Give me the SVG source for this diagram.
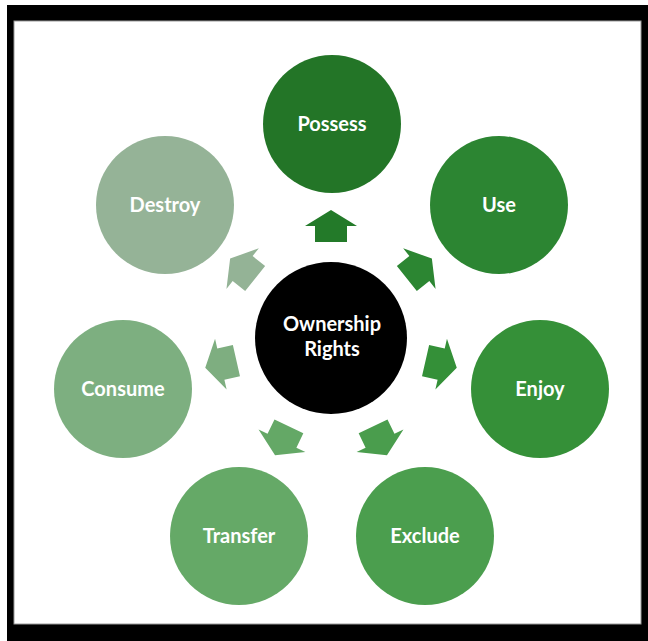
<svg xmlns="http://www.w3.org/2000/svg" xmlns:xlink="http://www.w3.org/1999/xlink" width="648" height="641" viewBox="0 0 648 641">
<style>
.lbl{font-family:Lato,"Open Sans","Liberation Sans",sans-serif;font-weight:bold;font-size:20px;fill:#ffffff;text-anchor:middle}
</style>
<defs>
<path id="arr" d="M331,210 L357,226 L347,226 L347,242 L315,242 L315,226 L305,226 Z"/>
</defs>
<rect x="0" y="0" width="648" height="641" fill="#ffffff"/>
<rect x="7" y="5" width="641" height="636" fill="#000000"/>
<rect x="14" y="21" width="627" height="603" fill="#ffffff" stroke="#9a9a9a" stroke-width="1"/>
<g id="connectors">
<use xlink:href="#arr" fill="#237a29"/>
<use xlink:href="#arr" fill="#2c8632" transform="rotate(51.43 331 339)"/>
<use xlink:href="#arr" fill="#349038" transform="rotate(102.86 331 339)"/>
<use xlink:href="#arr" fill="#4a9d4d" transform="rotate(154.29 331 339)"/>
<use xlink:href="#arr" fill="#64a866" transform="rotate(205.71 331 339)"/>
<use xlink:href="#arr" fill="#7eae80" transform="rotate(257.14 331 339)"/>
<use xlink:href="#arr" fill="#94b396" transform="rotate(308.57 331 339)"/>
</g>
<g id="center">
<circle cx="331" cy="338" r="76" fill="#000000"/>
<text class="lbl" x="332" y="331">Ownership</text>
<text class="lbl" x="332" y="356">Rights</text>
</g>
<g id="possess">
<circle cx="332" cy="124" r="69" fill="#237527"/>
<text class="lbl" x="332" y="131">Possess</text>
</g>
<g id="use">
<circle cx="499" cy="205" r="69" fill="#2c8532"/>
<text class="lbl" x="499" y="212">Use</text>
</g>
<g id="enjoy">
<circle cx="540" cy="389" r="69" fill="#359038"/>
<text class="lbl" x="540" y="396">Enjoy</text>
</g>
<g id="exclude">
<circle cx="425" cy="536" r="69" fill="#4b9e4e"/>
<text class="lbl" x="425" y="543">Exclude</text>
</g>
<g id="transfer">
<circle cx="239" cy="536" r="69" fill="#65a967"/>
<text class="lbl" x="239" y="543">Transfer</text>
</g>
<g id="consume">
<circle cx="123" cy="389" r="69" fill="#7daf80"/>
<text class="lbl" x="123" y="396">Consume</text>
</g>
<g id="destroy">
<circle cx="165" cy="205" r="69" fill="#95b397"/>
<text class="lbl" x="165" y="212">Destroy</text>
</g>
</svg>
